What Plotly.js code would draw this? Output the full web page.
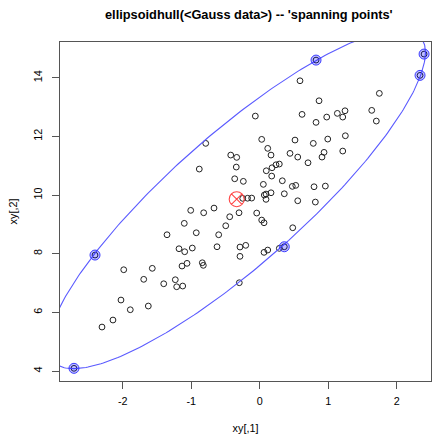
<!DOCTYPE html>
<html>
<head>
<meta charset="utf-8">
<script src="https://cdn.plot.ly/plotly-3.0.1.min.js"></script>
<style>html,body{margin:0;padding:0;background:#fff;}#plot{width:435px;height:437px;}</style>
</head>
<body>
<div id="plot"></div>
<script>
// Gauss data: xy[,1] and xy[,2]
const xs = [-0.788,-0.423,-0.336,-0.882,-0.342,-0.365,-0.239,-0.177,-0.117,-1.007,
  -0.667,0.822,2.399,2.340,0.588,1.746,0.866,-0.064,0.618,0.822,
  0.978,1.133,1.212,1.245,1.635,1.702,0.029,0.515,0.782,0.993,
  1.250,0.117,0.165,0.442,0.555,0.939,0.909,1.212,0.705,0.096,
  0.180,0.238,0.286,0.175,0.053,0.330,0.476,0.526,0.793,0.958,
  0.067,0.092,0.165,0.359,0.092,0.555,0.812,-2.404,-2.711,-0.818,
  -0.438,-0.302,-1.101,-0.496,-1.353,-0.926,-0.599,-1.178,-1.095,-0.984,
  -0.623,-0.288,-0.204,-0.288,-1.985,-1.568,-1.134,-1.061,-0.838,-0.823,
  -1.693,-1.232,-1.401,-1.212,-1.124,-0.298,-2.025,-1.626,-1.889,-2.142,
  -2.302,-0.044,0.029,0.063,0.482,0.063,0.117,0.286,0.359,-0.248];
const ys = [11.763,11.364,11.286,10.887,10.955,10.556,10.468,9.892,9.898,9.479,
  9.557,14.603,14.808,14.082,13.898,13.468,13.216,12.694,12.752,12.479,
  12.660,12.786,12.660,12.875,12.889,12.524,11.900,11.876,11.763,11.910,
  12.023,11.593,11.364,11.422,11.296,11.457,11.296,11.501,11.102,10.829,
  10.932,11.034,11.058,10.648,10.365,10.488,10.297,10.331,10.284,10.307,
  10.001,10.035,10.079,10.045,9.854,9.806,9.762,7.955,4.092,9.397,
  9.261,9.397,9.036,8.954,8.647,8.715,8.647,8.170,8.068,8.194,
  8.238,8.228,8.286,7.911,7.454,7.502,7.580,7.672,7.692,7.604,
  7.127,7.113,6.976,6.874,6.898,7.011,6.421,6.216,6.090,5.739,
  5.500,9.387,9.148,9.056,8.886,8.047,8.125,8.183,8.238,9.888];
// indices of the 'spanning points' (weights > 0)
const spanIdx = [11, 12, 13, 57, 58, 98];
// ellipsoid hull: location and shape matrix (d2 included)
const ellLoc = [-0.336, 9.86];
const ellCov = [[7.5905, 13.781], [13.781, 33.403]];
const xTicks = [-2, -1, 0, 1, 2];
const yTicks = [4, 6, 8, 10, 12, 14];

// predict(ellipsoid): points on the boundary
const L11 = Math.sqrt(ellCov[0][0]);
const L21 = ellCov[1][0] / L11;
const L22 = Math.sqrt(ellCov[1][1] - L21 * L21);
const ex = [], ey = [];
for (let k = 0; k <= 360; k++) {
  const t = 2 * Math.PI * k / 360;
  ex.push(ellLoc[0] + L11 * Math.cos(t));
  ey.push(ellLoc[1] + L21 * Math.cos(t) + L22 * Math.sin(t));
}

const font = 'Liberation Sans, Arial, Helvetica, sans-serif';
const traces = [
  {x: xs, y: ys, type: 'scatter', mode: 'markers', hoverinfo: 'none',
   marker: {symbol: 'circle-open', size: 5.8, color: '#222', line: {width: 1, color: '#222'}}},
  {x: ex, y: ey, type: 'scatter', mode: 'lines', hoverinfo: 'none',
   line: {color: 'rgb(90,90,255)', width: 1.1}},
  {x: [ellLoc[0]], y: [ellLoc[1]], type: 'scatter', mode: 'markers', hoverinfo: 'none',
   marker: {symbol: 'circle-x-open', size: 15, color: 'rgb(255,70,70)', line: {width: 1.1, color: 'rgb(255,70,70)'}}},
  {x: spanIdx.map(i => xs[i]), y: spanIdx.map(i => ys[i]), type: 'scatter', mode: 'markers', hoverinfo: 'none',
   marker: {symbol: 'circle', size: 10, color: 'rgba(0,0,255,0.25)', line: {width: 1, color: 'rgb(60,60,255)'}}}
];

const layout = {
  width: 435, height: 437,
  margin: {l: 60, r: 4, t: 42, b: 56},
  paper_bgcolor: '#fff', plot_bgcolor: '#fff',
  showlegend: false,
  font: {family: font, size: 10.8, color: '#000'},
  title: {text: "<b>ellipsoidhull(<Gauss data>) -- 'spanning points'</b>",
          font: {family: font, size: 12.8, color: '#000'},
          x: 0.509, xref: 'paper', y: 1 - 15 / 437, yref: 'container', yanchor: 'middle'},
  xaxis: {range: [-2.915, 2.50], tickvals: xTicks, ticktext: xTicks.map(String),
          showgrid: false, zeroline: false, showline: true, mirror: true,
          linecolor: '#555', linewidth: 1, ticks: 'outside', ticklen: 7, tickcolor: '#555',
          ticklabelstandoff: 3,
          title: {text: 'xy[,1]', standoff: 18, font: {family: font, size: 10.8}}},
  yaxis: {range: [3.66, 15.22], tickvals: yTicks, ticktext: yTicks.map(String),
          tickangle: -90,
          showgrid: false, zeroline: false, showline: true, mirror: true,
          linecolor: '#555', linewidth: 1, ticks: 'outside', ticklen: 7, tickcolor: '#555',
          ticklabelstandoff: 6,
          title: {text: 'xy[,2]', standoff: 11, font: {family: font, size: 10.8}}}
};

Plotly.newPlot('plot', traces, layout, {staticPlot: true, displayModeBar: false});
</script>
</body>
</html>
